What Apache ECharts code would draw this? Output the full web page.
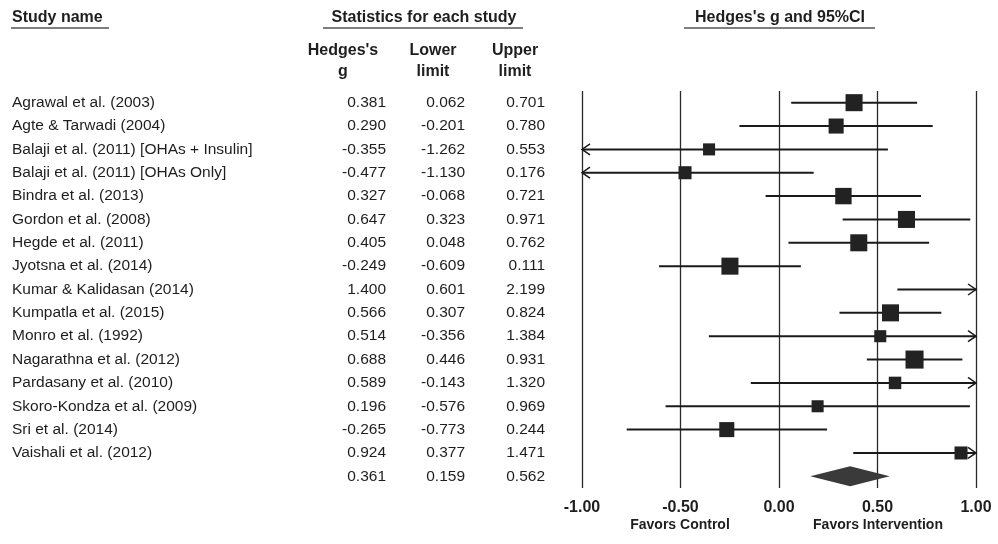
<!DOCTYPE html>
<html><head><meta charset="utf-8">
<script src="https://cdn.jsdelivr.net/npm/echarts@6/dist/echarts.min.js"></script>
<style>html,body{margin:0;padding:0;background:#fff}#c{width:998px;height:544px}</style>
</head><body><div id="c"></div>
<script>
// ---- data ----
const studies = [
  'Agrawal et al. (2003)', 'Agte & Tarwadi (2004)', 'Balaji et al. (2011) [OHAs + Insulin]',
  'Balaji et al. (2011) [OHAs Only]', 'Bindra et al. (2013)', 'Gordon et al. (2008)',
  'Hegde et al. (2011)', 'Jyotsna et al. (2014)', 'Kumar & Kalidasan (2014)',
  'Kumpatla et al. (2015)', 'Monro et al. (1992)', 'Nagarathna et al. (2012)',
  'Pardasany et al. (2010)', 'Skoro-Kondza et al. (2009)', 'Sri et al. (2014)',
  'Vaishali et al. (2012)'
];
const hedgesG   = [0.381, 0.290, -0.355, -0.477, 0.327, 0.647, 0.405, -0.249, 1.400, 0.566, 0.514, 0.688, 0.589, 0.196, -0.265, 0.924];
const lowerLim  = [0.062, -0.201, -1.262, -1.130, -0.068, 0.323, 0.048, -0.609, 0.601, 0.307, -0.356, 0.446, -0.143, -0.576, -0.773, 0.377];
const upperLim  = [0.701, 0.780, 0.553, 0.176, 0.721, 0.971, 0.762, 0.111, 2.199, 0.824, 1.384, 0.931, 1.320, 0.969, 0.244, 1.471];
// relative weights (%), estimated from the square sizes
const weights   = [8.2, 6.4, 4.1, 4.8, 7.6, 8.2, 8.2, 8.2, 4.1, 8.2, 4.1, 9.2, 4.4, 4.1, 6.4, 4.8];
const summaryG = 0.361, summaryLower = 0.159, summaryUpper = 0.562;
const xMin = -1, xMax = 1, xStep = 0.5;
const colHeaders = [['Hedges\'s', 'g'], ['Lower', 'limit'], ['Upper', 'limit']];
const favorLabels = ['Favors Control', 'Favors Intervention'];

// ---- chart ----
const nRows = studies.length + 1;
const rowCats = Array.from({length: nRows}, (_, i) => String(i));
const fmt = v => v.toFixed(3);
const textColor = '#1e1e1e';
const bodyFont = '15.5px "Liberation Sans", Arial, sans-serif';
const headFont = 'bold 16px "Liberation Sans", Arial, sans-serif';

const studyData = hedgesG.map((g, i) => [g, i, lowerLim[i], upperLim[i], weights[i]]);
const tableData = studies.map((s, i) => [0, i, s, hedgesG[i], lowerLim[i], upperLim[i]])
  .concat([[0, studies.length, '', summaryG, summaryLower, summaryUpper]]);

const chart = echarts.init(document.getElementById('c'), null, {renderer: 'canvas'});
chart.setOption({
  animation: false,
  grid: {left: 582, right: 22, top: 91, bottom: 56},
  xAxis: {
    type: 'value', min: xMin, max: xMax, interval: xStep,
    axisLine: {show: false}, axisTick: {show: false},
    splitLine: {show: true, lineStyle: {color: '#2a2a2a', width: 1.3}},
    axisLabel: {formatter: v => v.toFixed(2), fontSize: 16, fontWeight: 'bold',
      fontFamily: '"Liberation Sans", Arial, sans-serif', color: textColor, margin: 12}
  },
  yAxis: {type: 'category', data: rowCats, inverse: true, show: false},
  graphic: [
    {type: 'text', left: 12, top: 10, style: {text: 'Study name', font: headFont, fill: textColor}},
    {type: 'line', shape: {x1: 11, y1: 28, x2: 109, y2: 28}, style: {stroke: '#555', lineWidth: 1.5}},
    {type: 'text', x: 424, y: 18, style: {text: 'Statistics for each study', font: headFont, fill: textColor, textAlign: 'center', textVerticalAlign: 'middle'}},
    {type: 'line', shape: {x1: 323, y1: 28, x2: 523, y2: 28}, style: {stroke: '#555', lineWidth: 1.5}},
    {type: 'text', x: 780, y: 18, style: {text: 'Hedges\'s g and 95%CI', font: headFont, fill: textColor, textAlign: 'center', textVerticalAlign: 'middle'}},
    {type: 'line', shape: {x1: 684, y1: 28, x2: 875, y2: 28}, style: {stroke: '#555', lineWidth: 1.5}},
    ...colHeaders.flatMap((h, k) => {
      const cx = [343, 433, 515][k];
      return [
        {type: 'text', x: cx, y: 51, style: {text: h[0], font: headFont, fill: textColor, textAlign: 'center', textVerticalAlign: 'middle'}},
        {type: 'text', x: cx, y: 72, style: {text: h[1], font: headFont, fill: textColor, textAlign: 'center', textVerticalAlign: 'middle'}}
      ];
    }),
    {type: 'text', x: 680, y: 525, style: {text: favorLabels[0], font: 'bold 14px "Liberation Sans", Arial, sans-serif', fill: textColor, textAlign: 'center', textVerticalAlign: 'middle'}},
    {type: 'text', x: 878, y: 525, style: {text: favorLabels[1], font: 'bold 14px "Liberation Sans", Arial, sans-serif', fill: textColor, textAlign: 'center', textVerticalAlign: 'middle'}}
  ],
  series: [
    {
      type: 'custom', clip: false, silent: true,
      data: tableData,
      renderItem: (params, api) => {
        const i = api.value(1);
        const y = api.coord([0, i])[1];
        const d = tableData[params.dataIndex];
        const mk = (text, x, align) => ({type: 'text', style: {text, x, y, textAlign: align, textVerticalAlign: 'middle', font: bodyFont, fill: textColor}});
        return {type: 'group', children: [
          mk(d[2], 12, 'left'),
          mk(fmt(d[3]), 386, 'right'),
          mk(fmt(d[4]), 465, 'right'),
          mk(fmt(d[5]), 545, 'right')
        ]};
      }
    },
    {
      type: 'custom', clip: false, silent: true,
      data: studyData,
      renderItem: (params, api) => {
        const g = api.value(0), i = api.value(1), lo = api.value(2), hi = api.value(3), w = api.value(4);
        const y = api.coord([0, i])[1];
        const x1 = api.coord([Math.max(lo, xMin), i])[0];
        const x2 = api.coord([Math.min(hi, xMax), i])[0];
        const stroke = {stroke: '#1a1a1a', lineWidth: 2, fill: null};
        const ch = [{type: 'line', shape: {x1, y1: y, x2, y2: y}, style: stroke}];
        if (g >= xMin && g <= xMax) {
          const s = 5.95 * Math.sqrt(w);
          const cx = api.coord([g, i])[0];
          ch.push({type: 'rect', shape: {x: cx - s / 2, y: y - s / 2, width: s, height: s}, style: {fill: '#222'}});
        }
        if (lo < xMin) ch.push({type: 'polyline', shape: {points: [[x1 + 8, y - 5.5], [x1, y], [x1 + 8, y + 5.5]]}, style: {stroke: '#1a1a1a', lineWidth: 1.5, fill: null}});
        if (hi > xMax) ch.push({type: 'polyline', shape: {points: [[x2 - 8, y - 5.5], [x2, y], [x2 - 8, y + 5.5]]}, style: {stroke: '#1a1a1a', lineWidth: 1.5, fill: null}});
        return {type: 'group', children: ch};
      }
    },
    {
      type: 'custom', clip: false, silent: true,
      data: [[summaryG, studies.length, summaryLower, summaryUpper]],
      renderItem: (params, api) => {
        const i = api.value(1);
        const c = api.coord([api.value(0), i]);
        const l = api.coord([api.value(2), i])[0];
        const r = api.coord([api.value(3), i])[0];
        const h = 10;
        return {type: 'polygon', shape: {points: [[l, c[1]], [c[0], c[1] - h], [r, c[1]], [c[0], c[1] + h]]}, style: {fill: '#3a3a3a'}};
      }
    }
  ]
});
</script>
</body></html>
